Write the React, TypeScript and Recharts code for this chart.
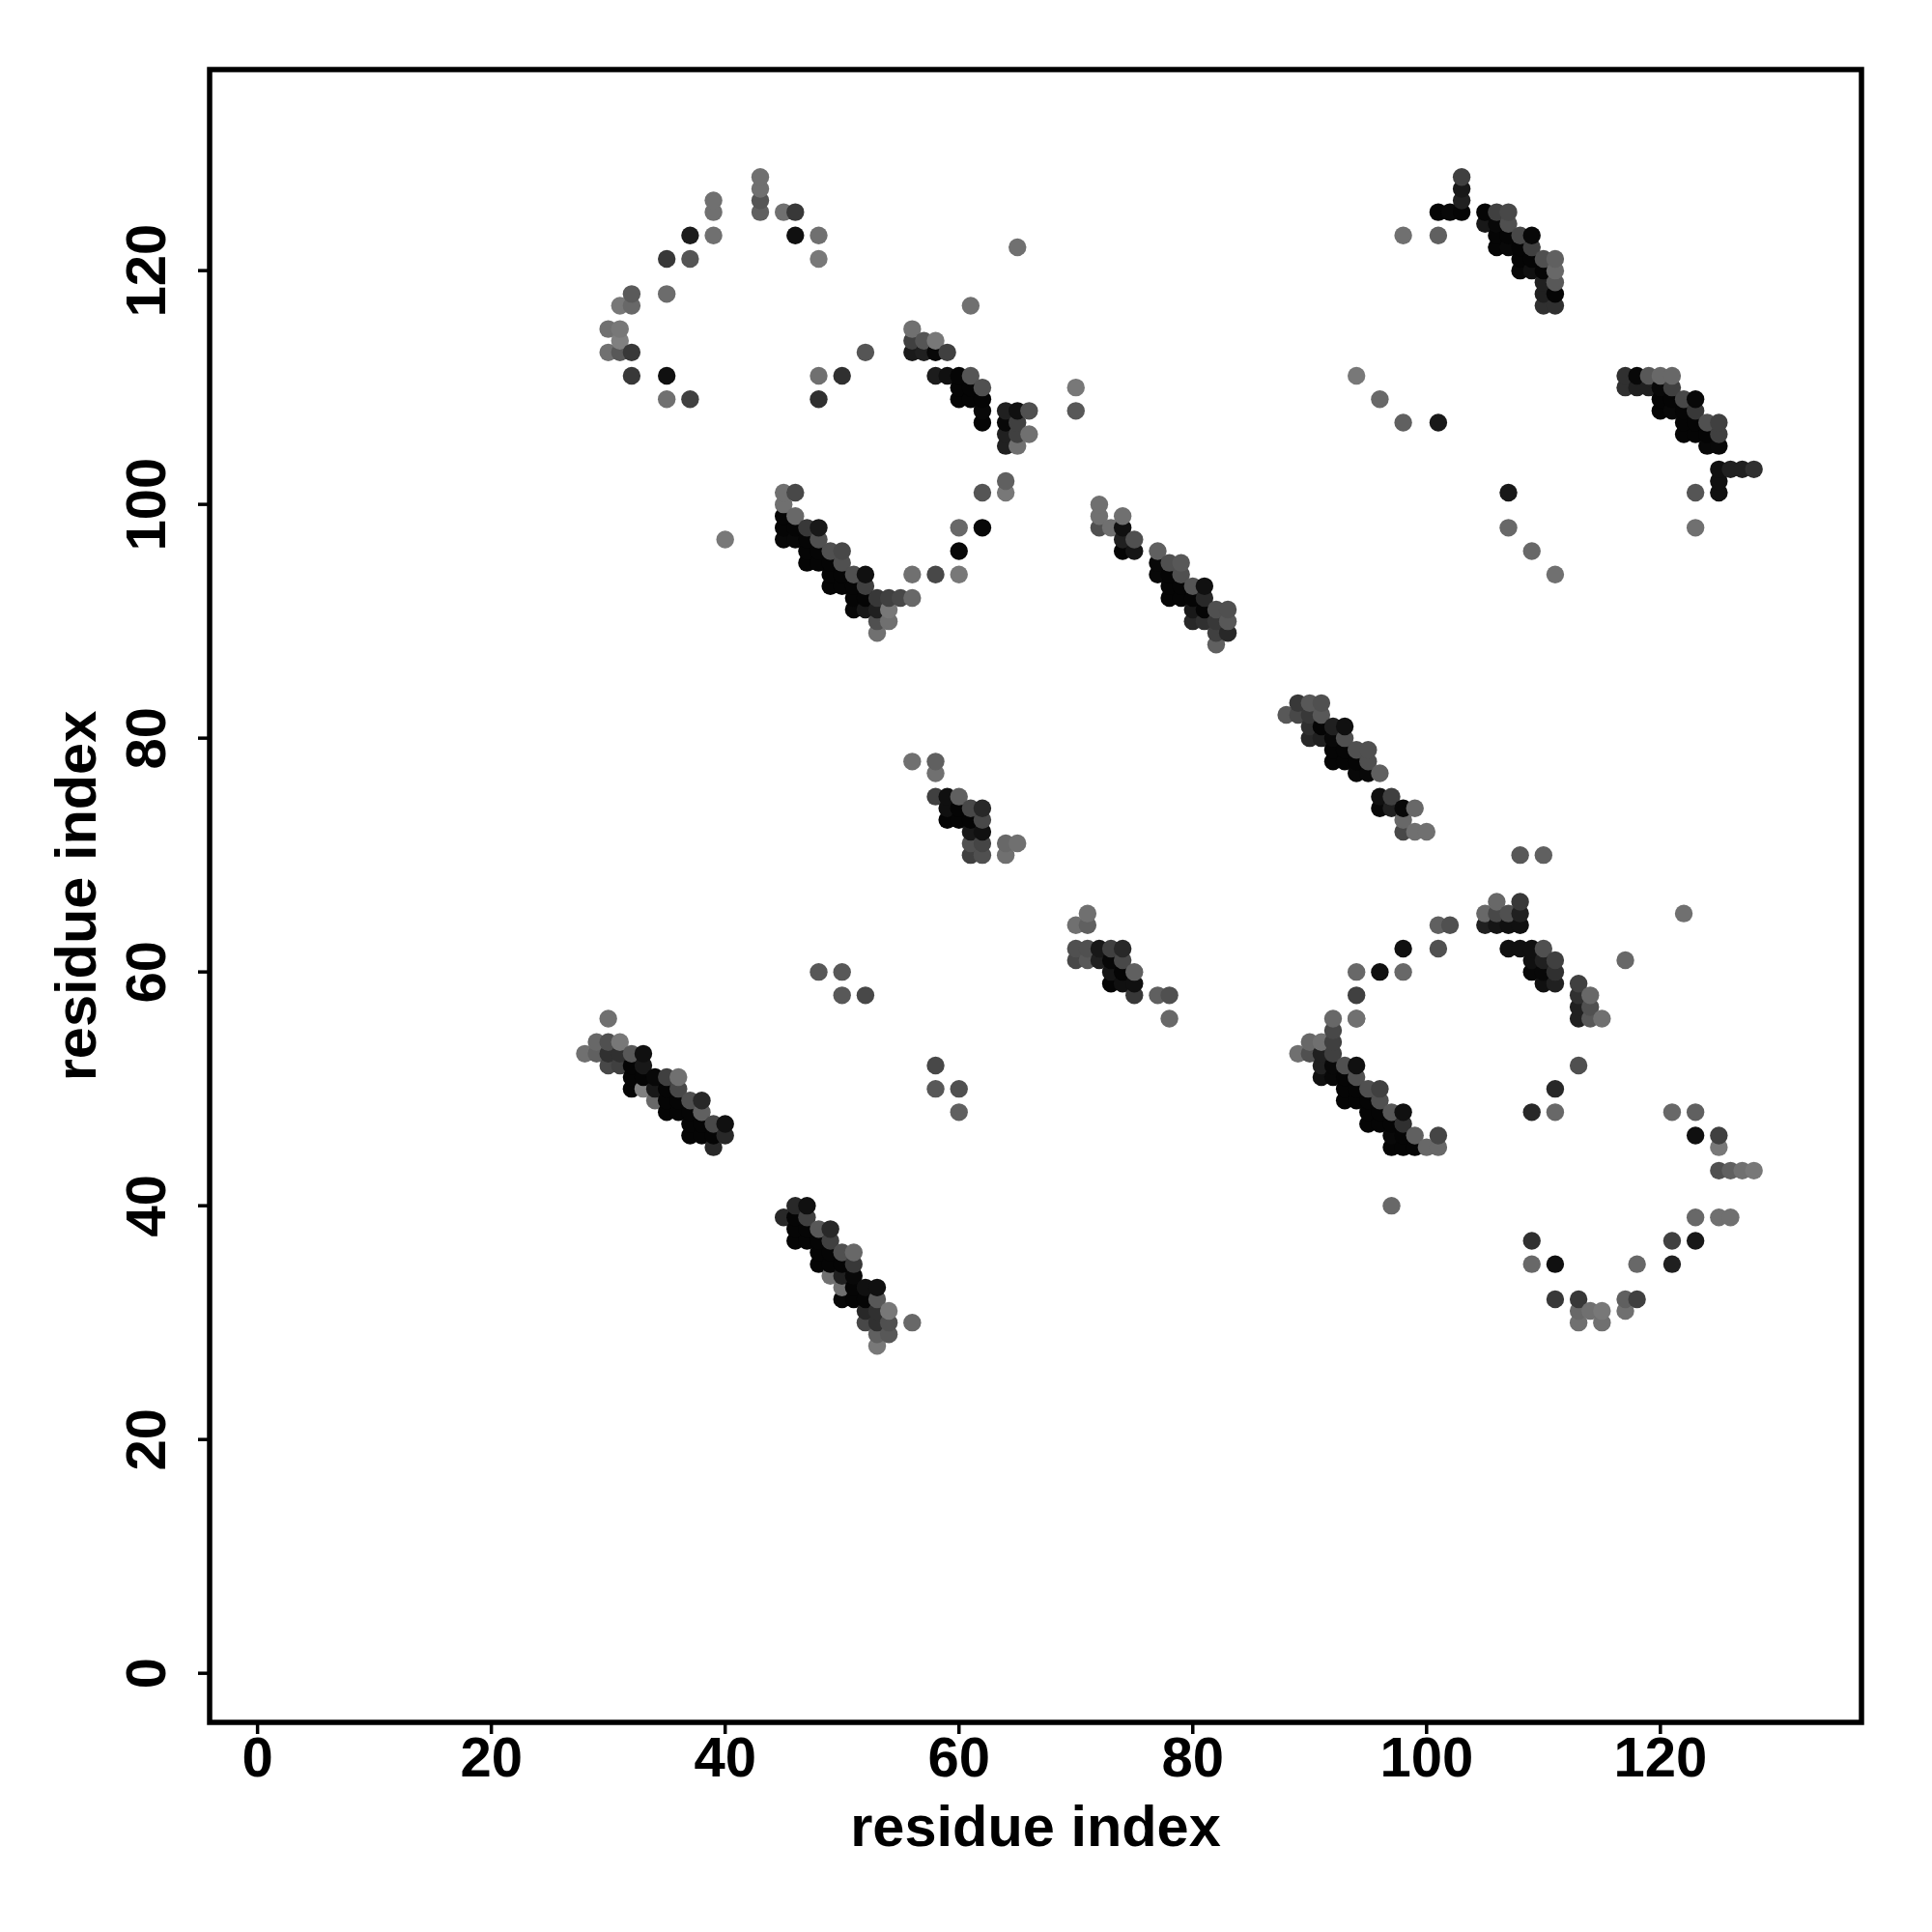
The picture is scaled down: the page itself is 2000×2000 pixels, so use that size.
import React from "react"
import { ScatterChart, Scatter, XAxis, YAxis, ZAxis, Cell, ReferenceArea } from 'recharts'

// each contact: [residue i, residue j, grey level 0-255]
type Contact = [number, number, number]

const tickValues = [0, 20, 40, 60, 80, 100, 120]
const xDomain = [-4.1, 137.2]
const yDomain = [-4.2, 137.2]

const topLeftArc: Contact[] = [
  [43,128,0x70],[43,127,0x70],[43,126,0x55],[43,125,0x60],[39,126,0x70],[39,125,0x70],[45,125,0x70],[46,125,0x38],
  [37,123,0x1c],[39,123,0x70],[46,123,0x10],[48,123,0x70],[35,121,0x38],[37,121,0x55],[48,121,0x78],
  [32,118,0x5a],[35,118,0x6c],[31,117,0x78],[32,117,0x68],[30,115,0x70],[31,115,0x78],[31,114,0x80],
  [30,113,0x70],[31,113,0x58],[32,113,0x38],[32,111,0x38],[35,111,0x10],[35,109,0x70],[37,109,0x40],
  [48,111,0x70],[50,111,0x30],[48,109,0x30],[52,113,0x55],[65,122,0x70],[61,117,0x70],[70,108,0x58],[70,110,0x78],
]

const helix56to66: Contact[] = [
  [56,115,0x70],[56,114,0x40],[57,114,0x55],[58,114,0x78],[56,113,0x1a],[57,113,0x20],[58,113,0x08],[59,113,0x40],
  [58,111,0x1c],[59,111,0x10],[60,111,0x05],[61,111,0x55],[60,110,0x05],[61,110,0x05],[62,110,0x50],
  [60,109,0x05],[61,109,0x05],[62,109,0x05],[62,108,0x08],[62,107,0x05],
  [64,108,0x20],[65,108,0x10],[66,108,0x50],[64,107,0x08],[65,107,0x40],[64,106,0x20],[65,106,0x40],[66,106,0x70],
  [64,105,0x20],[65,105,0x70],
]

const helix45to56: Contact[] = [
  [40,97,0x78],[45,101,0x70],[46,101,0x48],[45,100,0x70],[46,99,0x68],[45,99,0x05],[45,98,0x05],[46,98,0x05],[47,98,0x38],[48,98,0x18],
  [45,97,0x08],[46,97,0x08],[47,97,0x05],[48,97,0x50],[47,96,0x05],[48,96,0x05],[49,96,0x50],[50,96,0x48],
  [47,95,0x05],[48,95,0x05],[49,95,0x05],[50,95,0x50],[49,94,0x05],[50,94,0x05],[51,94,0x50],[52,94,0x10],
  [49,93,0x05],[50,93,0x05],[51,93,0x05],[52,93,0x40],[51,92,0x05],[52,92,0x05],[53,92,0x38],[54,92,0x40],[55,92,0x48],[56,92,0x68],
  [51,91,0x08],[52,91,0x18],[53,91,0x20],[54,91,0x78],[53,90,0x50],[54,90,0x70],[53,89,0x70],
  [56,94,0x70],[58,94,0x48],[60,94,0x78],[60,96,0x08],[60,98,0x68],[62,98,0x08],[62,101,0x55],[64,101,0x78],[64,102,0x60],
]

const helix72to83: Contact[] = [
  [72,100,0x70],[72,99,0x70],[72,98,0x50],[73,98,0x70],[74,99,0x70],[74,98,0x10],[74,97,0x20],[75,97,0x50],[74,96,0x05],[75,96,0x15],
  [77,96,0x60],[77,95,0x08],[78,95,0x50],[79,95,0x58],[77,94,0x08],[78,94,0x05],[79,94,0x50],
  [78,93,0x05],[79,93,0x05],[80,93,0x55],[81,93,0x10],[78,92,0x05],[79,92,0x05],[80,92,0x05],[81,92,0x28],
  [80,91,0x18],[81,91,0x05],[82,91,0x50],[83,91,0x50],[80,90,0x28],[81,90,0x30],[82,90,0x38],[83,90,0x58],
  [82,89,0x40],[83,89,0x28],[82,88,0x60],
]

const helix101to111: Contact[] = [
  [103,128,0x40],[103,127,0x18],[103,126,0x20],[101,125,0x05],[102,125,0x08],[103,125,0x05],
  [105,125,0x05],[106,125,0x40],[107,125,0x48],[105,124,0x18],[106,124,0x08],[107,124,0x50],
  [106,123,0x05],[107,123,0x05],[108,123,0x48],[109,123,0x08],[106,122,0x05],[107,122,0x08],[108,122,0x05],[109,122,0x40],
  [108,121,0x05],[109,121,0x05],[110,121,0x50],[111,121,0x60],[108,120,0x08],[109,120,0x10],[110,120,0x05],[111,120,0x68],
  [110,119,0x20],[111,119,0x58],[110,118,0x20],[111,118,0x05],[110,117,0x30],[111,117,0x30],
  [98,123,0x70],[101,123,0x60],[94,111,0x78],[96,109,0x68],[98,107,0x60],[101,107,0x18],
]

const helix117to128: Contact[] = [
  [117,111,0x30],[118,111,0x08],[119,111,0x58],[120,111,0x68],[121,111,0x68],
  [117,110,0x30],[118,110,0x20],[119,110,0x20],[120,110,0x08],[121,110,0x40],
  [120,109,0x05],[121,109,0x05],[122,109,0x48],[123,109,0x08],[120,108,0x05],[121,108,0x08],[122,108,0x05],[123,108,0x38],
  [122,107,0x05],[123,107,0x05],[124,107,0x50],[125,107,0x40],[122,106,0x05],[123,106,0x05],[124,106,0x05],[125,106,0x40],
  [124,105,0x08],[125,105,0x08],[125,103,0x10],[126,103,0x20],[127,103,0x20],[128,103,0x30],[125,102,0x10],[125,101,0x10],
  [123,101,0x55],[123,98,0x70],[107,101,0x18],[107,98,0x68],[109,96,0x68],[111,94,0x70],
]

const helix88to100: Contact[] = [
  [88,82,0x58],[89,83,0x38],[89,82,0x48],[90,83,0x58],[91,83,0x50],[90,82,0x38],[91,82,0x58],
  [90,81,0x30],[91,81,0x05],[92,81,0x20],[93,81,0x10],[90,80,0x28],[91,80,0x20],[92,80,0x08],[93,80,0x50],
  [92,79,0x05],[93,79,0x05],[94,79,0x50],[95,79,0x50],[92,78,0x05],[93,78,0x05],[94,78,0x05],[95,78,0x50],
  [94,77,0x08],[95,77,0x08],[96,77,0x60],[96,75,0x10],[97,75,0x40],[96,74,0x08],[97,74,0x20],[98,74,0x08],[99,74,0x68],
  [98,73,0x68],[98,72,0x48],[99,72,0x70],[100,72,0x70],
]

const helix56to65: Contact[] = [
  [56,78,0x70],[58,78,0x60],[58,77,0x70],[58,75,0x40],[59,75,0x10],[60,75,0x60],
  [59,74,0x10],[60,74,0x05],[61,74,0x48],[62,74,0x28],[59,73,0x05],[60,73,0x05],[61,73,0x05],[62,73,0x48],
  [61,72,0x18],[62,72,0x10],[61,71,0x50],[62,71,0x45],[61,70,0x40],[62,70,0x50],[64,71,0x68],[65,71,0x70],[64,70,0x70],
]

const helix70to78: Contact[] = [
  [71,65,0x70],[70,64,0x70],[71,64,0x60],[70,62,0x50],[71,62,0x50],[72,62,0x18],[73,62,0x40],[74,62,0x28],
  [70,61,0x48],[71,61,0x58],[72,61,0x20],[73,61,0x08],[74,61,0x48],[73,60,0x15],[74,60,0x05],[75,60,0x60],
  [73,59,0x05],[74,59,0x10],[75,59,0x10],[75,58,0x38],[77,58,0x60],[78,58,0x50],[78,56,0x68],
]

const helix28to40: Contact[] = [
  [28,53,0x70],[30,56,0x70],[29,54,0x68],[30,54,0x50],[31,54,0x78],[29,53,0x60],[30,53,0x30],[31,53,0x30],[32,53,0x58],[33,53,0x10],
  [30,52,0x48],[31,52,0x40],[32,52,0x05],[33,52,0x18],[32,51,0x05],[33,51,0x05],[34,51,0x08],[35,51,0x40],[36,51,0x70],
  [32,50,0x05],[33,50,0x80],[34,50,0x18],[35,50,0x05],[36,50,0x48],[34,49,0x68],[35,49,0x05],[36,49,0x05],[37,49,0x50],[38,49,0x28],
  [35,48,0x05],[36,48,0x05],[37,48,0x05],[38,48,0x60],[37,47,0x05],[38,47,0x05],[39,47,0x48],[40,47,0x10],
  [37,46,0x05],[38,46,0x05],[39,46,0x05],[40,46,0x28],[39,45,0x28],
]

const helix89to101: Contact[] = [
  [92,56,0x68],[94,56,0x70],[92,55,0x48],[92,54,0x40],[90,54,0x68],[91,54,0x70],[89,53,0x70],[90,53,0x50],[91,53,0x20],[92,53,0x40],
  [91,52,0x20],[92,52,0x08],[93,52,0x50],[94,52,0x10],[91,51,0x10],[92,51,0x08],[93,51,0x05],[94,51,0x50],
  [93,50,0x05],[94,50,0x05],[95,50,0x50],[96,50,0x40],[93,49,0x05],[94,49,0x05],[95,49,0x05],[96,49,0x50],
  [95,48,0x05],[96,48,0x05],[97,48,0x58],[98,48,0x10],[95,47,0x05],[96,47,0x05],[97,47,0x05],[98,47,0x30],
  [97,46,0x08],[98,46,0x05],[99,46,0x60],[101,46,0x45],[97,45,0x05],[98,45,0x05],[99,45,0x05],[100,45,0x68],[101,45,0x68],
  [97,40,0x68],
]

const helix45to56Low: Contact[] = [
  [45,39,0x28],[46,40,0x28],[47,40,0x10],[46,39,0x05],[47,39,0x40],[46,38,0x05],[47,38,0x05],[48,38,0x58],[49,38,0x28],
  [46,37,0x05],[47,37,0x05],[48,37,0x05],[49,37,0x40],[48,36,0x05],[49,36,0x05],[50,36,0x50],[51,36,0x68],
  [48,35,0x05],[49,35,0x05],[50,35,0x05],[51,35,0x38],[49,34,0x70],[50,34,0x20],[51,34,0x08],
  [50,33,0x70],[51,33,0x05],[52,33,0x10],[53,33,0x10],[50,32,0x08],[51,32,0x05],[52,32,0x05],[53,32,0x58],
  [52,31,0x28],[53,31,0x30],[54,31,0x78],[52,30,0x48],[53,30,0x30],[54,30,0x50],[56,30,0x68],[53,29,0x60],[54,29,0x58],[53,28,0x78],
]

const scatteredLow: Contact[] = [
  [48,60,0x58],[50,60,0x58],[50,58,0x58],[52,58,0x48],[58,52,0x48],[58,50,0x58],[60,50,0x50],[60,48,0x60],
  [94,60,0x68],[96,60,0x10],[98,62,0x10],[98,60,0x68],[94,58,0x40],[94,56,0x70],[101,62,0x50],[101,64,0x60],[102,64,0x50],
]

const helix105to115: Contact[] = [
  [105,65,0x68],[105,64,0x20],[106,66,0x68],[106,65,0x48],[106,64,0x15],[108,66,0x38],[107,65,0x50],[108,65,0x20],[107,64,0x10],[108,64,0x10],
  [108,70,0x58],[110,70,0x60],[107,62,0x10],[108,62,0x10],[109,62,0x10],[110,62,0x50],[109,61,0x10],[110,61,0x20],[111,61,0x40],
  [109,60,0x08],[110,60,0x08],[111,60,0x30],[110,59,0x10],[111,59,0x20],[113,59,0x40],[113,58,0x30],[114,58,0x68],
  [113,57,0x20],[114,57,0x50],[113,56,0x20],[114,56,0x58],[115,56,0x70],[117,61,0x68],[122,65,0x70],
]

const bottomRightArc: Contact[] = [
  [113,52,0x50],[111,50,0x28],[109,48,0x28],[111,48,0x68],[121,48,0x68],[123,48,0x60],[123,46,0x10],[125,46,0x40],[125,45,0x78],
  [125,43,0x50],[126,43,0x60],[127,43,0x70],[128,43,0x78],[123,39,0x68],[125,39,0x70],[126,39,0x70],
  [121,37,0x40],[123,37,0x18],[121,35,0x20],[109,37,0x30],[109,35,0x68],[111,35,0x10],[118,35,0x68],
  [111,32,0x38],[113,32,0x38],[113,31,0x68],[114,31,0x70],[115,31,0x78],[113,30,0x70],[115,30,0x70],[117,32,0x60],[118,32,0x40],[117,31,0x70],
]

const contacts = [
  ...topLeftArc, ...helix56to66, ...helix45to56, ...helix72to83, ...helix101to111, ...helix117to128,
  ...helix88to100, ...helix56to65, ...helix70to78, ...helix28to40, ...helix89to101, ...helix45to56Low,
  ...scatteredLow, ...helix105to115, ...bottomRightArc,
]

// later columns sit on top, and inside a column higher rows sit on top
const data = contacts
  .map(([i, j, grey]) => ({ i, j, grey }))
  .sort((a, b) => a.i - b.i || a.j - b.j)

const FONT = '"Liberation Sans", Arial, sans-serif'
const tickStyle = { fontFamily: FONT, fontWeight: 700, fontSize: 58, fill: '#000' }
const titleStyle = { fontFamily: FONT, fontWeight: 700, fontSize: 59.5, fill: '#000' }

const greyFill = (g: number) => `rgb(${g}, ${g}, ${g})`

function YTick({ x, y, payload }: any) {
  return (
    <text x={x} y={y} transform={`rotate(-90 ${x} ${y})`} textAnchor="middle" style={tickStyle}>
      {payload.value}
    </text>
  )
}

export default function App() {
  return (
    <div style={{ position: 'absolute', left: 0, top: 0, width: 2000, height: 2000, background: '#fff' }}>
      <ScatterChart width={2000} height={2000} margin={{ top: 72, right: 73, bottom: 0, left: 0 }}>
        <XAxis
          type="number"
          dataKey="i"
          domain={xDomain}
          ticks={tickValues}
          interval={0}
          height={217}
          allowDataOverflow
          tickSize={12}
          tickMargin={3}
          tickLine={{ stroke: '#000', strokeWidth: 3.5 }}
          axisLine={false}
          tick={tickStyle}
          label={{ value: 'residue index', position: 'center', dy: -2, ...titleStyle }}
        />
        <YAxis
          type="number"
          dataKey="j"
          domain={yDomain}
          ticks={tickValues}
          interval={0}
          width={217}
          allowDataOverflow
          tickSize={12}
          tickMargin={34}
          tickLine={{ stroke: '#000', strokeWidth: 3.5 }}
          axisLine={false}
          tick={<YTick />}
          label={{ value: 'residue index', position: 'center', angle: -90, dx: -31, ...titleStyle }}
        />
        <ZAxis dataKey="grey" range={[266, 266]} />
        <ReferenceArea
          x1={xDomain[0]}
          x2={xDomain[1]}
          y1={yDomain[0]}
          y2={yDomain[1]}
          fill="none"
          stroke="#000"
          strokeWidth={5.5}
          ifOverflow="visible"
        />
        <Scatter data={data} isAnimationActive={false}>
          {data.map((d, idx) => (
            <Cell key={idx} fill={greyFill(d.grey)} />
          ))}
        </Scatter>
      </ScatterChart>
    </div>
  )
}
